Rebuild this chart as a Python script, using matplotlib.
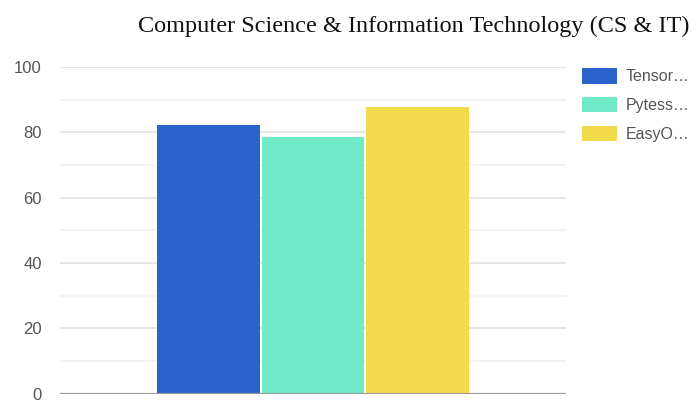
import matplotlib
matplotlib.use("Agg")
import matplotlib.pyplot as plt
from matplotlib.patches import Patch

title = "Computer Science & Information Technology (CS & IT)"
series = ["Tensor…", "Pytess…", "EasyO…"]
values = [82.2, 78.7, 87.8]
colors = ["#2a63cc", "#6fe9c6", "#f5d94d"]
yticks = [0, 20, 40, 60, 80, 100]

W, H = 696, 405
fig = plt.figure(figsize=(W / 100, H / 100), dpi=100)
ax = fig.add_axes([60 / W, 1 - 393.5 / H, (566 - 60) / W, (393.5 - 67) / H])

bw = 0.203
gap = 0.004
for i, (s, v, c) in enumerate(zip(series, values, colors)):
    x = (i - 1) * (bw + gap)
    ax.bar(x, v, width=bw, color=c, zorder=3, label=s)

ax.set_xlim(-0.5, 0.5)
ax.set_ylim(0, 100)
ax.set_yticks(yticks)
ax.set_yticks([10, 30, 50, 70, 90], minor=True)
ax.grid(axis="y", which="major", color="#e2e2e2", linewidth=1.2, zorder=0)
ax.grid(axis="y", which="minor", color="#f1f1f1", linewidth=1.2, zorder=0)
ax.axhline(0, color="#9a9a9a", linewidth=1.6, zorder=4)
for sp in ax.spines.values():
    sp.set_visible(False)
ax.set_xticks([])
ax.tick_params(axis="y", which="both", length=0, pad=13, labelsize=12,
               labelcolor="#555555")
for lab in ax.get_yticklabels():
    lab.set_family("Liberation Sans")

handles = [Patch(facecolor=c) for c in colors]
fig.legend(handles, series, loc="upper left",
           bbox_to_anchor=(579 / W, 1 - 65 / H), frameon=False,
           prop={"family": "Liberation Sans", "size": 11.5},
           handlelength=2.2, handleheight=1.1, handletextpad=0.5,
           labelspacing=0.8, borderaxespad=0, borderpad=0.2,
           labelcolor="#555555")

fig.text(414 / W, 1 - 26 / H, title, ha="center", va="center",
         family="Liberation Serif", fontsize=17.5, color="#111111")

fig.savefig("out.png", dpi=100)
